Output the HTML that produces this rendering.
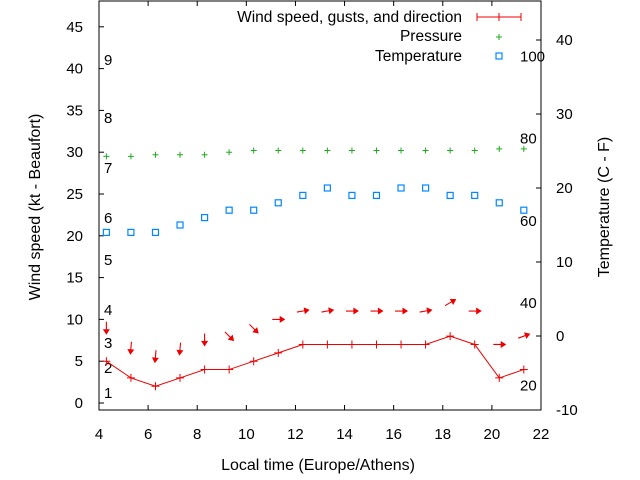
<!DOCTYPE html>
<html><head><meta charset="utf-8"><style>
body{margin:0;background:#fff}
svg{display:block;font-family:"Liberation Sans",sans-serif}
</style></head><body>
<svg id="chart" width="640" height="480" viewBox="0 0 640 480" xmlns="http://www.w3.org/2000/svg">
<g id="axes"></g>
<g id="marks"></g>
<text x="318" y="470" font-size="16" text-anchor="middle">Local time (Europe/Athens)</text>
<text transform="translate(40,207) rotate(-90)" font-size="16" text-anchor="middle">Wind speed (kt - Beaufort)</text>
<text transform="translate(609,207) rotate(-90)" font-size="16" text-anchor="middle">Temperature (C - F)</text>
<g font-size="15.5">
<text x="462" y="22" text-anchor="end">Wind speed, gusts, and direction</text>
<line x1="477" y1="17" x2="521" y2="17" stroke="#e00" stroke-width="1"/>
<line x1="477" y1="13" x2="477" y2="21" stroke="#e00"/><line x1="499" y1="13" x2="499" y2="21" stroke="#e00"/><line x1="521" y1="13" x2="521" y2="21" stroke="#e00"/>
<text x="462" y="41" text-anchor="end">Pressure</text>
<path d="M496,37H502M499,34V40" stroke="#2a2"/>
<text x="462" y="61" text-anchor="end">Temperature</text>
<rect x="496" y="53" width="6" height="6" fill="none" stroke="#08f" stroke-width="1.2"/>
</g>
</svg>
<script>
const times=[4.3,5.3,6.3,7.3,8.3,9.3,10.3,11.3,12.3,13.3,14.3,15.3,16.3,17.3,18.3,19.3,20.3,21.3];
const wind=[5,3,2,3,4,4,5,6,7,7,7,7,7,7,8,7,3,4];
const gusts=[9,6.6,5.6,6.5,7.6,8,8.9,10,11,11,11,11,11,11,12,11,7,8];
const direction=[0,5,5,5,0,315,315,270,260,260,270,270,270,260,240,270,270,250];
const pressure=[29.5,29.5,29.7,29.7,29.7,30,30.2,30.2,30.2,30.2,30.2,30.2,30.2,30.2,30.2,30.2,30.4,30.4];
const temperature=[14,14,14,15,16,17,17,18,19,20,19,19,20,20,19,19,18,17];
const xTicks=[4,6,8,10,12,14,16,18,20,22];
const yTicks=[0,5,10,15,20,25,30,35,40,45];
const y2Ticks=[-10,0,10,20,30,40];
const beaufort=[[1,393],[2,368],[3,343],[4,310],[5,260],[6,218],[7,168],[8,118],[9,60]];
const fahr=[20,40,60,80,100];
const L=99,R=541,T=1,B=410;
const X=v=>L+(v-4)*(R-L)/18;
const Y=v=>403-v*8.36;
const Y2=v=>336-v*7.4;
const NS='http://www.w3.org/2000/svg';
const ax=document.getElementById('axes'),mk=document.getElementById('marks');
function el(p,t,a){const e=document.createElementNS(NS,t);for(const k in a)e.setAttribute(k,a[k]);p.appendChild(e);return e;}
const frame=el(ax,'rect',{x:L,y:T,width:R-L,height:B-T,fill:'none',stroke:'#000'});


xTicks.forEach(v=>{const x=X(v);el(ax,'line',{x1:x,y1:B,x2:x,y2:B-5,stroke:'#000'});el(ax,'line',{x1:x,y1:T,x2:x,y2:T+5,stroke:'#000'});
const t=el(ax,'text',{x:x,y:B+29,'font-size':15,'text-anchor':'middle'});t.textContent=v;

});
yTicks.forEach(v=>{const y=Y(v);el(ax,'line',{x1:L,y1:y,x2:L+5,y2:y,stroke:'#000'});
const t=el(ax,'text',{x:L-16,y:y+5,'font-size':15,'text-anchor':'end'});t.textContent=v;

});
y2Ticks.forEach(v=>{const y=Y2(v);el(ax,'line',{x1:R,y1:y,x2:R-5,y2:y,stroke:'#000'});
const t=el(ax,'text',{x:R+15,y:y+5,'font-size':15,'text-anchor':'start'});t.textContent=v;

});
beaufort.forEach(b=>{const t=el(ax,'text',{x:104,y:b[1]+5,'font-size':15});t.textContent=b[0];

});
fahr.forEach(f=>{const c=(f-32)*5/9;const t=el(ax,'text',{x:520,y:Y2(c)+5,'font-size':15});t.textContent=f;

});
const line=el(mk,'polyline',{points:times.map((t,i)=>X(t)+','+Y(wind[i])).join(' '),fill:'none',stroke:'#e00','stroke-width':1});


times.forEach((t,i)=>{const x=X(t),y=Y(wind[i]);
const p=el(mk,'path',{d:`M${x-4},${y}H${x+4}M${x},${y-4}V${y+4}`,stroke:'#e00'});


const a=direction[i]*Math.PI/180;const dx=-Math.sin(a),dy=Math.cos(a);
const cx=X(t),cy=Y(gusts[i]);const x1=cx-dx*6,y1=cy-dy*6,x2=cx+dx*6,y2=cy+dy*6;
const px=-dy,py=dx;
const g=el(mk,'path',{d:`M${x1},${y1}L${x2},${y2}M${x2},${y2}L${x2-dx*4+px*2.5},${y2-dy*4+py*2.5}L${x2-dx*4-px*2.5},${y2-dy*4-py*2.5}Z`,stroke:'#e00',fill:'#e00','stroke-width':1.1});


const px2=X(t),py2=Y(pressure[i]);
const q=el(mk,'path',{d:`M${px2-3},${py2}H${px2+3}M${px2},${py2-3}V${py2+3}`,stroke:'#2a2'});


const sx=X(t),sy=Y2(temperature[i]);
const r=el(mk,'rect',{x:sx-3,y:sy-3,width:6,height:6,fill:'none',stroke:'#08f','stroke-width':1.2});


});
</script>
</body></html>
